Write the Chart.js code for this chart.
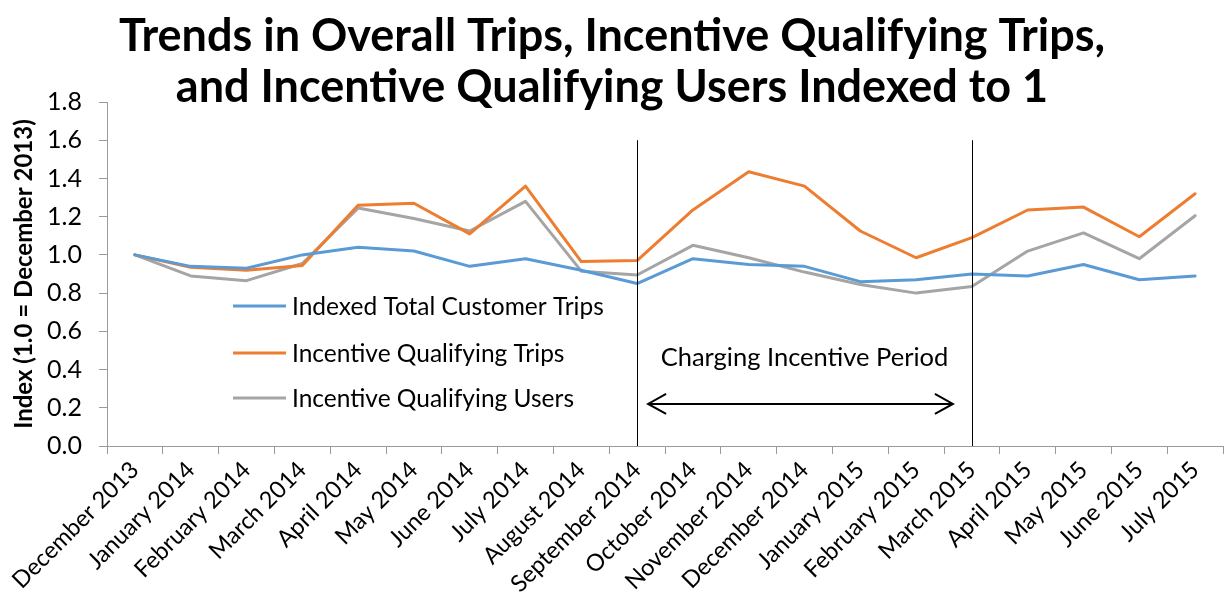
<!DOCTYPE html>
<html>
<head>
<meta charset="utf-8">
<script src="https://cdn.jsdelivr.net/npm/chart.js@4.4.1/dist/chart.umd.min.js"></script>
<style>
  html, body { margin: 0; padding: 0; background: #fff; }
  #wrap { width: 1224px; height: 605px; }
</style>
</head>
<body>
<div id="wrap"><canvas id="myChart" width="1224" height="605"></canvas></div>
<script>
const months = [
    "December 2013", "January 2014", "February 2014", "March 2014", "April 2014",
    "May 2014", "June 2014", "July 2014", "August 2014", "September 2014",
    "October 2014", "November 2014", "December 2014", "January 2015", "February 2015",
    "March 2015", "April 2015", "May 2015", "June 2015", "July 2015"
];

const totalTrips = [1.00, 0.94, 0.93, 1.00, 1.04, 1.02, 0.94, 0.98, 0.92, 0.85,
                    0.98, 0.95, 0.94, 0.86, 0.87, 0.90, 0.89, 0.95, 0.87, 0.89];
const qualifyingTrips = [1.00, 0.935, 0.92, 0.945, 1.26, 1.27, 1.11, 1.36, 0.965, 0.97,
                         1.235, 1.435, 1.36, 1.125, 0.985, 1.09, 1.235, 1.25, 1.095, 1.32];
const qualifyingUsers = [1.00, 0.89, 0.865, 0.955, 1.245, 1.19, 1.125, 1.28, 0.915, 0.895,
                         1.05, 0.985, 0.91, 0.845, 0.80, 0.835, 1.02, 1.115, 0.98, 1.205];

const seriesNames = ["Indexed Total Customer Trips", "Incentive Qualifying Trips", "Incentive Qualifying Users"];
const seriesColors = ["#5B9BD5", "#ED7D31", "#A5A5A5"];

const titleLines = ["Trends in Overall Trips, Incentive Qualifying Trips,",
                    "and Incentive Qualifying Users Indexed to 1"];
const periodLabel = "Charging Incentive Period";
const periodStart = "September 2014";
const periodEnd = "March 2015";

const axisColor = "#9a9a9a";
const font = "Lato";

// title, legend, period markers drawn on the canvas
const decorations = {
    id: "decorations",
    afterDraw(chart) {
        const ctx = chart.ctx;
        const x = chart.scales.x;
        const y = chart.scales.y;
        ctx.save();

        ctx.fillStyle = "#000";
        ctx.textAlign = "center";
        ctx.textBaseline = "alphabetic";
        ctx.font = "bold 45px " + font;
        ctx.fillText(titleLines[0], 612, 51);
        ctx.fillText(titleLines[1], 612, 102);

        // vertical period lines
        const x1 = x.getPixelForValue(months.indexOf(periodStart));
        const x2 = x.getPixelForValue(months.indexOf(periodEnd));
        ctx.strokeStyle = "#000";
        ctx.lineWidth = 1;
        [x1, x2].forEach(px => {
            ctx.beginPath();
            ctx.moveTo(Math.round(px) + 0.5, y.getPixelForValue(0));
            ctx.lineTo(Math.round(px) + 0.5, y.getPixelForValue(1.6));
            ctx.stroke();
        });

        // double arrow
        const ay = y.getPixelForValue(0.22);
        const ax1 = x1 + 11, ax2 = x2 - 19;
        ctx.lineWidth = 2;
        ctx.beginPath();
        ctx.moveTo(ax1, ay);
        ctx.lineTo(ax2, ay);
        ctx.moveTo(ax1 + 18, ay - 10);
        ctx.lineTo(ax1, ay);
        ctx.lineTo(ax1 + 18, ay + 10);
        ctx.moveTo(ax2 - 18, ay - 10);
        ctx.lineTo(ax2, ay);
        ctx.lineTo(ax2 - 18, ay + 10);
        ctx.stroke();

        ctx.font = "25.5px " + font;
        ctx.textBaseline = "middle";
        ctx.fillText(periodLabel, x.getPixelForValue(months.indexOf("December 2014")), y.getPixelForValue(0.46));

        // legend
        ctx.textAlign = "left";
        ctx.font = "24.5px " + font;
        const rows = [306, 353, 398];
        chart.data.datasets.forEach((ds, i) => {
            ctx.strokeStyle = ds.borderColor;
            ctx.lineWidth = 3;
            ctx.beginPath();
            ctx.moveTo(233, rows[i]);
            ctx.lineTo(286, rows[i]);
            ctx.stroke();
            ctx.fillStyle = "#000";
            ctx.fillText(ds.label, 292, rows[i] + 1);
        });

        ctx.restore();
    }
};

new Chart("myChart", {
    type: "line",
    data: {
        labels: months,
        datasets: [
            { label: seriesNames[0], data: totalTrips, borderColor: seriesColors[0] },
            { label: seriesNames[1], data: qualifyingTrips, borderColor: seriesColors[1] },
            { label: seriesNames[2], data: qualifyingUsers, borderColor: seriesColors[2] }
        ]
    },
    options: {
        responsive: false,
        animation: false,
        layout: { padding: { top: 102, right: 1, left: 0, bottom: 0 } },
        elements: {
            line: { borderWidth: 3, tension: 0, borderCapStyle: "round", borderJoinStyle: "round" },
            point: { radius: 0 }
        },
        plugins: {
            legend: { display: false },
            title: { display: false },
            tooltip: { enabled: false }
        },
        scales: {
            x: {
                offset: true,
                grid: { offset: true, drawOnChartArea: false, tickLength: 8, color: axisColor },
                border: { color: axisColor },
                ticks: {
                    minRotation: 45, maxRotation: 45, autoSkip: false, padding: 2,
                    color: "#000", font: { family: font, size: 23.5 }
                },
                afterFit(scale) { scale.height = 159; }
            },
            y: {
                min: 0, max: 1.8,
                grid: { drawOnChartArea: false, tickLength: 8, color: axisColor },
                border: { color: axisColor },
                ticks: {
                    stepSize: 0.2, padding: 17, color: "#000",
                    font: { family: font, size: 25 },
                    callback: v => v.toFixed(1)
                },
                title: {
                    display: true, text: "Index (1.0 = December 2013)", color: "#000",
                    font: { family: font, size: 24, weight: "bold" }, padding: { top: 10, bottom: 0 }
                },
                afterFit(scale) { scale.width = 107; }
            }
        }
    },
    plugins: [decorations]
});
</script>
</body>
</html>
